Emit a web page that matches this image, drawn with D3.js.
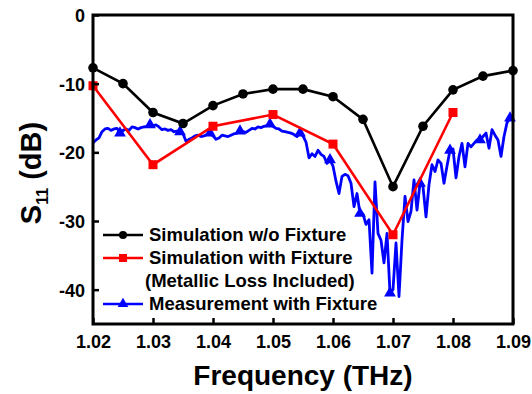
<!DOCTYPE html>
<html>
<head>
<meta charset="utf-8">
<script src="https://cdn.jsdelivr.net/npm/d3@7"></script>
<style>
  html, body { margin: 0; padding: 0; background: #fff; }
  svg { display: block; font-family: "Liberation Sans", Arial, sans-serif; font-weight: bold; }
</style>
</head>
<body>
<svg id="chart" width="532" height="394"></svg>
<script>
// Simulated S11 without fixture (every 5 GHz)
const simFreq = [1.02, 1.025, 1.03, 1.035, 1.04, 1.045, 1.05, 1.055, 1.06, 1.065, 1.07, 1.075, 1.08, 1.085, 1.09];
const simNoFixture = [-7.7, -10.0, -14.2, -15.8, -13.2, -11.5, -10.8, -10.8, -11.9, -15.2, -25.0, -16.2, -10.9, -8.9, -8.1];

// Simulated S11 with fixture, metallic loss included (every 10 GHz)
const fixFreq = [1.02, 1.03, 1.04, 1.05, 1.06, 1.07, 1.08];
const simWithFixture = [-10.3, -21.8, -16.2, -14.5, -18.8, -32.0, -14.2];

// Measured S11 with fixture (0.5 GHz step)
const measFreq = [
  1.0200, 1.0205, 1.0210, 1.0215, 1.0220, 1.0225, 1.0230, 1.0235, 1.0240, 1.0245,
  1.0250, 1.0255, 1.0260, 1.0265, 1.0270, 1.0275, 1.0280, 1.0285, 1.0290, 1.0295,
  1.0300, 1.0305, 1.0310, 1.0315, 1.0320, 1.0325, 1.0330, 1.0335, 1.0340, 1.0345,
  1.0350, 1.0355, 1.0360, 1.0365, 1.0370, 1.0375, 1.0380, 1.0385, 1.0390, 1.0395,
  1.0400, 1.0405, 1.0410, 1.0415, 1.0420, 1.0425, 1.0430, 1.0435, 1.0440, 1.0445,
  1.0450, 1.0455, 1.0460, 1.0465, 1.0470, 1.0475, 1.0480, 1.0485, 1.0490, 1.0495,
  1.0500, 1.0505, 1.0510, 1.0515, 1.0520, 1.0525, 1.0530, 1.0535, 1.0540, 1.0545,
  1.0550, 1.0555, 1.0560, 1.0565, 1.0570, 1.0575, 1.0580, 1.0585, 1.0590, 1.0595,
  1.0600, 1.0605, 1.0610, 1.0615, 1.0620, 1.0625, 1.0630, 1.0635, 1.0640, 1.0645,
  1.0650, 1.0655, 1.0660, 1.0665, 1.0670, 1.0675, 1.0680, 1.0685, 1.0690, 1.0695,
  1.0700, 1.0705, 1.0710, 1.0715, 1.0720, 1.0725, 1.0730, 1.0735, 1.0740, 1.0745,
  1.0750, 1.0755, 1.0760, 1.0765, 1.0770, 1.0775, 1.0780, 1.0785, 1.0790, 1.0795,
  1.0800, 1.0805, 1.0810, 1.0815, 1.0820, 1.0825, 1.0830, 1.0835, 1.0840, 1.0845,
  1.0850, 1.0855, 1.0860, 1.0865, 1.0870, 1.0875, 1.0880, 1.0885, 1.0890, 1.0895,
  1.0900
];
const measured = [
  -18.6, -18.2, -17.9, -17.0, -16.6, -16.5, -16.8, -16.6, -16.5, -17.2,
  -16.8, -16.6, -16.8, -16.3, -16.4, -16.6, -16.4, -16.3, -16.2, -16.0,
  -16.1, -16.0, -16.3, -16.7, -16.6, -16.8, -16.7, -17.0, -16.9, -17.0,
  -17.3, -18.4, -18.1, -17.9, -17.6, -17.5, -17.7, -17.6, -17.4, -17.2,
  -17.6, -18.1, -17.9, -17.5, -17.6, -17.7, -17.5, -17.3, -17.2, -16.9,
  -17.0, -17.1, -16.8, -16.5, -16.6, -16.3, -16.4, -16.2, -16.1, -15.9,
  -16.2, -16.5, -16.6, -16.9, -17.0, -17.1, -17.2, -17.4, -17.7, -17.2,
  -17.6, -18.5, -20.8, -20.2, -20.6, -19.7, -20.3, -20.6, -21.6, -21.1,
  -22.0, -24.2, -26.0, -23.5, -23.2, -23.4, -24.5, -27.9, -26.0, -28.9,
  -29.0, -30.5, -29.8, -37.6, -24.3, -31.8, -32.8, -36.1, -31.8, -40.5,
  -40.0, -33.2, -41.0, -32.8, -26.4, -30.1, -28.6, -24.0, -28.4, -24.5,
  -25.0, -29.4, -24.7, -21.8, -22.8, -21.1, -21.6, -24.5, -22.0, -19.7,
  -19.5, -23.7, -20.6, -18.7, -22.1, -18.7, -19.2, -18.7, -18.2, -18.2,
  -17.7, -17.2, -19.4, -16.7, -17.5, -18.2, -20.6, -17.7, -15.7, -15.0,
  -15.3
];

const xTicks = [1.02, 1.03, 1.04, 1.05, 1.06, 1.07, 1.08, 1.09];
const yTicks = [0, -10, -20, -30, -40];

const legendLabels = [
  ["Simulation w/o Fixture"],
  ["Simulation with Fixture", "(Metallic Loss Included)"],
  ["Measurement with Fixture"]
];

const svg = d3.select("#chart");
const mLeft = 93, mRight = 513, mTop = 15, mBottom = 324;

const x = d3.scaleLinear().domain([1.02, 1.09]).range([mLeft, mRight]);
const y = d3.scaleLinear().domain([-45, 0]).range([mBottom, mTop]);

const plot = svg.append("g");

// Measured curve
const measPts = measFreq.map((f, i) => [f, measured[i]]);
plot.append("path")
  .datum(measPts)
  .attr("fill", "none")
  .attr("stroke", "#0000ff")
  .attr("stroke-width", 2.8)
  .attr("stroke-linejoin", "round")
  .attr("d", d3.line().x(d => x(d[0])).y(d => y(d[1])));

const tri = d3.symbol().type(d3.symbolTriangle).size(60);
plot.selectAll(".tri")
  .data(measPts.filter((d, i) => i % 10 === 9))
  .join("path")
  .attr("transform", d => `translate(${x(d[0])},${y(d[1])})`)
  .attr("d", tri)
  .attr("fill", "#0000ff");

// Simulation with fixture
const fixPts = fixFreq.map((f, i) => [f, simWithFixture[i]]);
plot.append("path")
  .datum(fixPts)
  .attr("fill", "none")
  .attr("stroke", "#ff0000")
  .attr("stroke-width", 2.6)
  .attr("d", d3.line().x(d => x(d[0])).y(d => y(d[1])));
plot.selectAll(".sq")
  .data(fixPts)
  .join("rect")
  .attr("x", d => x(d[0]) - 4.5)
  .attr("y", d => y(d[1]) - 4.5)
  .attr("width", 9)
  .attr("height", 9)
  .attr("fill", "#ff0000");

// Simulation without fixture
const simPts = simFreq.map((f, i) => [f, simNoFixture[i]]);
plot.append("path")
  .datum(simPts)
  .attr("fill", "none")
  .attr("stroke", "#000")
  .attr("stroke-width", 2.6)
  .attr("d", d3.line().x(d => x(d[0])).y(d => y(d[1])));
plot.selectAll(".dot")
  .data(simPts)
  .join("circle")
  .attr("cx", d => x(d[0]))
  .attr("cy", d => y(d[1]))
  .attr("r", 4.8)
  .attr("fill", "#000");

// Axes with inward ticks
const xAxis = svg.append("g")
  .attr("transform", `translate(0,${mBottom})`)
  .call(d3.axisBottom(x).tickValues(xTicks).tickFormat(d3.format(".2f")).tickSizeInner(-6).tickSizeOuter(0).tickPadding(11));
const yAxis = svg.append("g")
  .attr("transform", `translate(${mLeft},0)`)
  .call(d3.axisLeft(y).tickValues(yTicks).tickFormat(d => d).tickSizeInner(-6).tickSizeOuter(0).tickPadding(8));

[xAxis, yAxis].forEach(a => {
  a.select(".domain").remove();
  a.selectAll(".tick line").attr("stroke", "#000").attr("stroke-width", 2.5);
  a.selectAll(".tick text")
    .attr("fill", "#000")
    .style("font-family", '"Liberation Sans", Arial, sans-serif')
    .style("font-weight", "bold")
    .style("font-size", "18px");
});
yAxis.selectAll(".tick text").attr("dy", "0.36em");

// Frame
svg.append("rect")
  .attr("x", mLeft).attr("y", mTop)
  .attr("width", mRight - mLeft).attr("height", mBottom - mTop)
  .attr("fill", "none")
  .attr("stroke", "#000")
  .attr("stroke-width", 3);

// Axis titles
svg.append("text")
  .attr("x", (mLeft + mRight) / 2)
  .attr("y", 385)
  .attr("text-anchor", "middle")
  .style("font-size", "28px")
  .text("Frequency (THz)");

const yTitle = svg.append("text")
  .attr("transform", `translate(41,173) rotate(-90)`)
  .attr("text-anchor", "middle")
  .style("font-size", "29px");
yTitle.append("tspan").text("S");
yTitle.append("tspan").attr("dy", 7).style("font-size", "16px").text("11");
yTitle.append("tspan").attr("dy", -7).text(" (dB)");

// Legend
const legend = svg.append("g");
const rows = [
  { y: 235, color: "#000", mark: "circle", lines: legendLabels[0] },
  { y: 258, color: "#ff0000", mark: "square", lines: legendLabels[1] },
  { y: 304, color: "#0000ff", mark: "triangle", lines: legendLabels[2] }
];
rows.forEach(r => {
  legend.append("line")
    .attr("x1", 103).attr("x2", 143)
    .attr("y1", r.y).attr("y2", r.y)
    .attr("stroke", r.color).attr("stroke-width", 2.6);
  if (r.mark === "circle") {
    legend.append("circle").attr("cx", 123).attr("cy", r.y).attr("r", 4).attr("fill", r.color);
  } else if (r.mark === "square") {
    legend.append("rect").attr("x", 119).attr("y", r.y - 4).attr("width", 8).attr("height", 8).attr("fill", r.color);
  } else {
    legend.append("path").attr("transform", `translate(123,${r.y})`)
      .attr("d", d3.symbol().type(d3.symbolTriangle).size(50)).attr("fill", r.color);
  }
  r.lines.forEach((t, i) => {
    legend.append("text")
      .attr("x", i === 0 ? 149 : 145)
      .attr("y", r.y + i * 23)
      .attr("dy", "0.35em")
      .style("font-size", "18.5px")
      .text(t);
  });
});
</script>
</body>
</html>
